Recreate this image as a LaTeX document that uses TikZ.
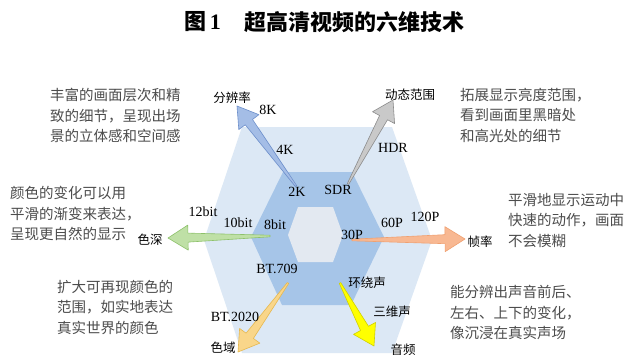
\documentclass[tikz,border=0pt]{standalone}
\usepackage{fontspec}
\setmainfont{Liberation Serif}
\newfontfamily\cjk{Noto Sans CJK SC}
\usetikzlibrary{calc}
\definecolor{hexout}{HTML}{DCE8F5}
\definecolor{hexmid}{HTML}{A6C5E8}
\definecolor{hexin}{HTML}{E3E9F1}
\definecolor{desc}{HTML}{4C4C4C}
\definecolor{resfill}{HTML}{A4BDE6}\definecolor{resline}{HTML}{6D8FCB}
\definecolor{hdrfill}{HTML}{C9C9C9}\definecolor{hdrline}{HTML}{8C8C8C}
\definecolor{depfill}{HTML}{BFE0A6}\definecolor{depline}{HTML}{8DC16A}
\definecolor{frmfill}{HTML}{F8B892}\definecolor{frmline}{HTML}{F0A070}
\definecolor{gamfill}{HTML}{F9D68A}\definecolor{gamline}{HTML}{E6B84F}
\definecolor{audfill}{HTML}{FFFF00}\definecolor{audline}{HTML}{D0D000}
\newcommand{\fatarrow}[4]{%
  \coordinate (#1-h) at ($(#2)!20pt!(#1)$);
  \path[fill=#3, draw=#4, line width=0.6pt, line join=round]
    ($(#1)!0.8pt!90:(#2)$) -- ($(#1-h)!4.5pt!-90:(#1)$) -- ($(#1-h)!12.5pt!-90:(#1)$)
    -- (#2) -- ($(#1-h)!12.5pt!90:(#1)$) -- ($(#1-h)!4.5pt!90:(#1)$)
    -- ($(#1)!0.8pt!-90:(#2)$) -- cycle;}
\begin{document}
\begin{tikzpicture}[x=1pt,y=-1pt,
  desctext/.style={font=\cjk\fontsize{14.5}{20.5}\selectfont, text=desc, align=left, inner sep=0pt, anchor=north west},
  dimlabel/.style={font=\cjk\fontsize{12.5}{14}\selectfont, inner sep=0pt},
  numlabel/.style={font=\fontsize{14}{16}\selectfont, inner sep=0pt},
  titletext/.style={font=\cjk\bfseries\fontsize{22}{24}\selectfont, inner sep=0pt, anchor=west}]
\useasboundingbox (0,0) rectangle (631,356);
\fill[white] (0,0) rectangle (631,356);
% title
\node[titletext] (t1) at (184,22) {图\,{\rmfamily\bfseries 1}};
\node[titletext] (t2) at (244,22) {超高清视频的六维技术};
% hexagons
\fill[hexout] (242,127) -- (392,127) -- (432,240) -- (392,353) -- (242,353) -- (204,240) -- cycle;
\fill[hexmid] (283,172) -- (352,172) -- (384,237) -- (351,305) -- (282,305) -- (251,237) -- cycle;
\fill[hexin] (298,207) -- (333,207) -- (343,235) -- (333,262) -- (298,262) -- (288,235) -- cycle;
% arrow endpoints
\coordinate (rs) at (296,186); \coordinate (rt) at (237,106);
\coordinate (hs) at (348,184); \coordinate (ht) at (393,100);
\coordinate (ds) at (270,236); \coordinate (dt) at (168,238);
\coordinate (fs) at (352,240); \coordinate (ft) at (465,239);
\coordinate (gs) at (288,283); \coordinate (gt) at (238,352);
\coordinate (as) at (340,283); \coordinate (at) at (374,346);
\fatarrow{rs}{rt}{resfill}{resline}
\fatarrow{hs}{ht}{hdrfill}{hdrline}
\fatarrow{ds}{dt}{depfill}{depline}
\fatarrow{fs}{ft}{frmfill}{frmline}
\fatarrow{gs}{gt}{gamfill}{gamline}
\fatarrow{as}{at}{audfill}{audline}
% dimension labels
\node[dimlabel] (lres) at (232,98) {分辨率};
\node[dimlabel] (lhdr) at (410,95) {动态范围};
\node[dimlabel] (ldep) at (150,240) {色深};
\node[dimlabel] (lfrm) at (480,242) {帧率};
\node[dimlabel] (lgam) at (223,348) {色域};
\node[dimlabel] (laud) at (403,350) {音频};
\node[dimlabel] (lsur) at (367,283) {环绕声};
\node[dimlabel] (l3d) at (392,312) {三维声};
% value labels
\node[numlabel] (v8k) at (268,110) {8K};
\node[numlabel] (v4k) at (285,150) {4K};
\node[numlabel] (v2k) at (297,192) {2K};
\node[numlabel] (vsdr) at (338,190) {SDR};
\node[numlabel] (vhdr) at (393,148) {HDR};
\node[numlabel] (v12) at (203,212) {12bit};
\node[numlabel] (v10) at (238,223) {10bit};
\node[numlabel] (v8) at (275,225) {8bit};
\node[numlabel] (v30) at (352,235) {30P};
\node[numlabel] (v60) at (392,223) {60P};
\node[numlabel] (v120) at (425,217) {120P};
\node[numlabel] (v709) at (277,269) {BT.709};
\node[numlabel] (v2020) at (235,317) {BT.2020};
% descriptions
\node[desctext] (dres) at (50,88) {丰富的画面层次和精\\致的细节，呈现出场\\景的立体感和空间感};
\node[desctext] (dhdr) at (460,88) {拓展显示亮度范围，\\看到画面里黑暗处\\和高光处的细节};
\node[desctext] (ddep) at (10,186) {颜色的变化可以用\\平滑的渐变来表达，\\呈现更自然的显示};
\node[desctext] (dfrm) at (508,193) {平滑地显示运动中\\快速的动作，画面\\不会模糊};
\node[desctext] (dgam) at (57,280) {扩大可再现颜色的\\范围，如实地表达\\真实世界的颜色};
\node[desctext] (daud) at (450,285) {能分辨出声音前后、\\左右、上下的变化，\\像沉浸在真实声场};
\end{tikzpicture}
\end{document}
